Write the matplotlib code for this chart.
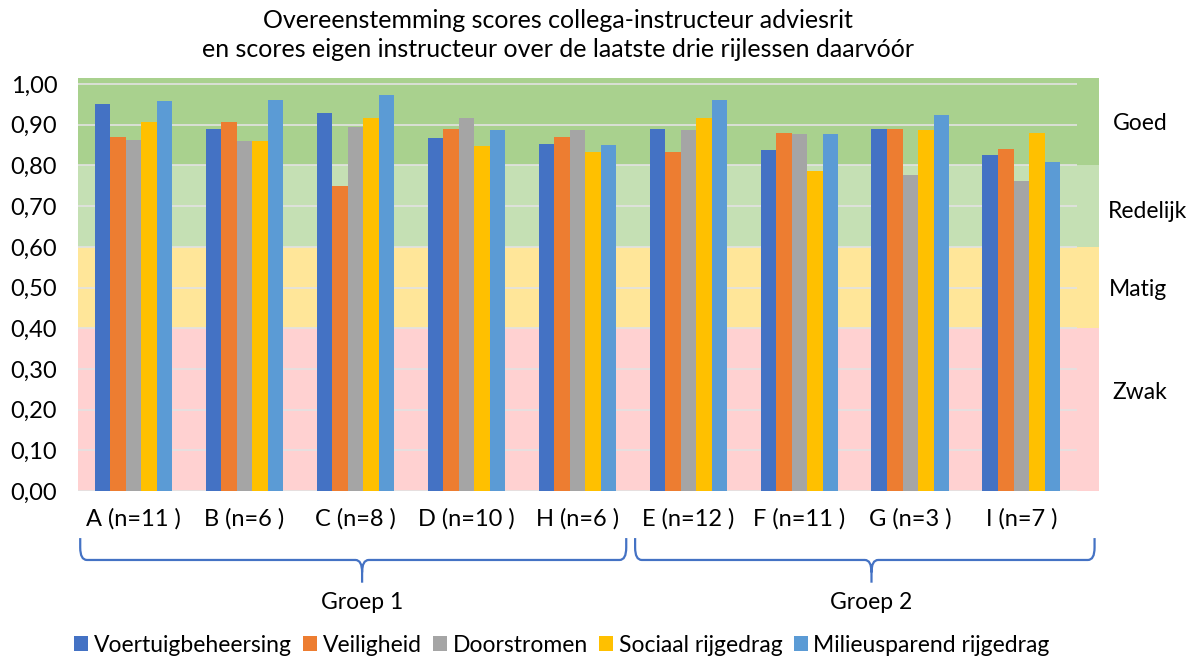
import matplotlib.pyplot as plt
import matplotlib.transforms as mtransforms
from matplotlib.path import Path
from matplotlib.patches import PathPatch
import numpy as np

plt.rcParams['font.family'] = ['Lato', 'DejaVu Sans']

# data
categories = ["A (n=11 )", "B (n=6 )", "C (n=8 )", "D (n=10 )", "H (n=6 )",
              "E (n=12 )", "F (n=11 )", "G (n=3 )", "I (n=7 )"]
series_names = ["Voertuigbeheersing", "Veiligheid", "Doorstromen",
                "Sociaal rijgedrag", "Milieusparend rijgedrag"]
voertuig = [0.950, 0.889, 0.930, 0.867, 0.852, 0.889, 0.838, 0.889, 0.825]
veiligheid = [0.869, 0.907, 0.749, 0.889, 0.871, 0.834, 0.879, 0.889, 0.841]
doorstromen = [0.862, 0.860, 0.894, 0.916, 0.887, 0.887, 0.877, 0.776, 0.761]
sociaal = [0.907, 0.860, 0.916, 0.849, 0.832, 0.916, 0.786, 0.887, 0.879]
milieu = [0.958, 0.962, 0.972, 0.887, 0.851, 0.962, 0.878, 0.925, 0.809]
bands = [(0.0, 0.4, "Zwak"), (0.4, 0.6, "Matig"), (0.6, 0.8, "Redelijk"), (0.8, 1.015, "Goed")]
groups = [("Groep 1", 0, 4), ("Groep 2", 5, 8)]

colors = ["#4472C4", "#ED7D31", "#A5A5A5", "#FFC000", "#5B9BD5"]
band_colors = ["#FFD1D1", "#FFE699", "#C5E0B4", "#A9D18E"]
label_pos = {"Zwak": (1140, 0.241), "Matig": (1138, 0.496), "Redelijk": (1148, 0.688), "Goed": (1140, 0.904)}

fig = plt.figure(figsize=(11.92, 6.57), dpi=100)
ax = fig.add_axes([78 / 1192, 166 / 657, 1021 / 1192, 413 / 657])

x = np.arange(len(categories))
ax.set_xlim(-0.5, 8.7)
ax.set_ylim(0, 1.015)

lab_trans = mtransforms.blended_transform_factory(fig.transFigure, ax.transData)
for (lo, hi, name), c in zip(bands, band_colors):
    ax.axhspan(lo, hi, color=c, zorder=0, lw=0)
    px, py = label_pos[name]
    ax.text(px / 1192, py, name, transform=lab_trans, ha="center", va="center", fontsize=16.5)

for yv in np.arange(0, 1.01, 0.1):
    ax.hlines(yv, -0.5, 8.5, color="#E2E2E2", lw=1.2, zorder=1)

w = 0.14
all_series = [voertuig, veiligheid, doorstromen, sociaal, milieu]
for i, (vals, name) in enumerate(zip(all_series, series_names)):
    ax.bar(x + (i - 2) * w, vals, w, color=colors[i], label=name, zorder=2)

ax.set_xticks(x)
ax.set_xticklabels(categories)
ax.set_yticks(np.arange(0, 1.01, 0.1))
ax.yaxis.set_major_formatter(plt.FuncFormatter(lambda v, p: f"{v:.2f}".replace(".", ",")))
ax.tick_params(axis="both", length=0, labelsize=17)
ax.tick_params(axis="x", pad=12)
ax.tick_params(axis="y", pad=15)
for s in ax.spines.values():
    s.set_visible(False)

# brackets under the categories
trans = mtransforms.blended_transform_factory(ax.transData, ax.transAxes)
y_top, y_mid, y_tip = -0.114, -0.167, -0.222
r = 0.03
for name, i0, i1 in groups:
    x0 = i0 - 0.5 + 0.02
    x1 = i1 + 0.5 - 0.06 if i1 < 8 else i1 + 0.66
    xc = 2.06 if i0 == 0 else 6.65
    dx = 0.06
    verts = [(x0, y_top), (x0, y_mid + r), (x0, y_mid), (x0 + dx, y_mid),
             (xc - dx, y_mid), (xc, y_mid), (xc, y_mid - r), (xc, y_tip),
             (xc, y_mid - r), (xc, y_mid), (xc + dx, y_mid),
             (x1 - dx, y_mid), (x1, y_mid), (x1, y_mid + r), (x1, y_top)]
    codes = [Path.MOVETO, Path.LINETO, Path.CURVE3, Path.CURVE3,
             Path.LINETO, Path.CURVE3, Path.CURVE3, Path.LINETO,
             Path.MOVETO, Path.CURVE3, Path.CURVE3,
             Path.LINETO, Path.CURVE3, Path.CURVE3, Path.LINETO]
    patch = PathPatch(Path(verts, codes), transform=trans, fill=False,
                      edgecolor="#4472C4", lw=1.6, clip_on=False)
    ax.add_patch(patch)
    ax.text(xc, -0.27, name, transform=trans, ha="center", va="center", fontsize=16.5)

fig.text(558 / 1192, 1 - 35 / 657,
         "Overeenstemming scores collega-instructeur adviesrit\nen scores eigen instructeur over de laatste drie rijlessen daarvóór",
         ha="center", va="center", fontsize=18, linespacing=1.3)

fig.legend(loc="center", bbox_to_anchor=(562 / 1192, 1 - 645 / 657), ncol=5, frameon=False,
           fontsize=16.5, handlelength=0.6, handleheight=0.6, handletextpad=0.25, columnspacing=0.5)

fig.savefig("out.png", dpi=100)
